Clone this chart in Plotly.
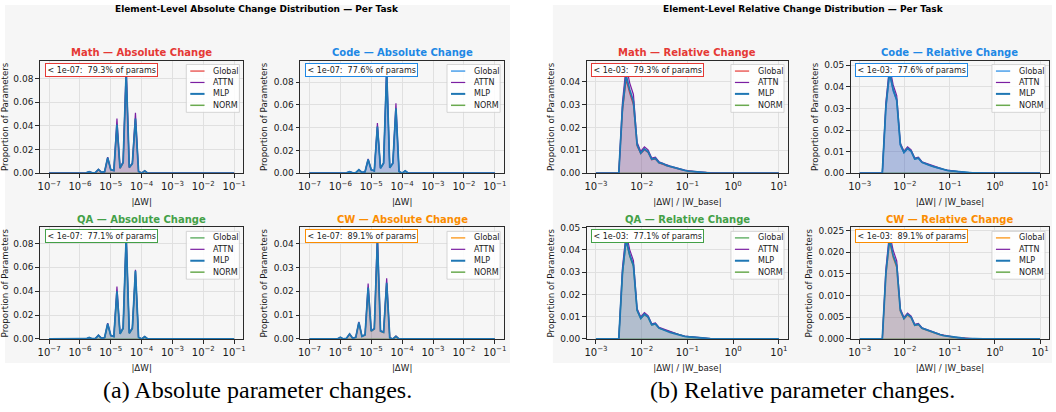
import plotly.graph_objects as go

W, H = 1056, 412

# ---------------- data ----------------
TASKS = ["Math", "Code", "QA", "CW"]
TASK_COLORS = {"Math": "#e53935", "Code": "#1e88e5", "QA": "#43a047", "CW": "#fb8c00"}
PCT_BELOW = {"Math": "79.3%", "Code": "77.6%", "QA": "77.1%", "CW": "89.1%"}
SERIES = ["Global", "ATTN", "MLP", "NORM"]
ATTN_COLOR = "#7b1fa2"
MLP_COLOR = "#1f77b4"
NORM_COLOR = "#6aaa4f"

ABS_TICK_EXP = [-7, -6, -5, -4, -3, -2, -1]
REL_TICK_EXP = [-3, -2, -1, 0, 1]

# log10 bin positions
ABS_LOGX = [-7.0, -6.2, -6.1, -6.0, -5.9, -5.8, -5.7, -5.6, -5.5, -5.4, -5.3, -5.2, -5.1, -5.0,
            -4.9, -4.8, -4.7, -4.6, -4.5, -4.4, -4.3, -4.2, -4.1, -4.0, -3.9, -3.8, -3.7, -1.0]
REL_LOGX = [-3.0, -2.5, -2.42, -2.34, -2.26, -2.18, -2.10, -2.02, -1.94, -1.86, -1.78, -1.70,
            -1.62, -1.54, -1.46, -1.38, -1.30, -1.22, -1.14, -1.06, -0.98, -0.90, -0.82, -0.74,
            -0.66, -0.58, -0.50, -0.42, -0.34, -0.26, -0.10, 1.0]
NORM_ABS_LOGX = [-7.0, -1.0]
NORM_REL_LOGX = [-3.0, 1.0]
NORM_VALUES = [0.0, 0.0]

# absolute change distributions
ABS_MATH_GLOBAL = [0, 0, 0, .0003, 0, .0002, .0011, .0002, .0004, .0030, .0006, .0011, .0125, .0028,
                   .0020, .0400, .0040, .0085, .0840, .0045, .0080, .0450, .0014, 0, .0018, 0, 0, 0]
ABS_MATH_ATTN = [0, 0, 0, .0003, 0, .0002, .0012, .0002, .0004, .0032, .0006, .0012, .0135, .0030,
                 .0022, .0460, .0045, .0095, .0905, .0050, .0085, .0510, .0015, 0, .0020, 0, 0, 0]
ABS_MATH_MLP = [0, 0, 0, .0003, 0, .0002, .0012, .0002, .0004, .0031, .0006, .0012, .0130, .0029,
                .0021, .0410, .0042, .0090, .0850, .0047, .0080, .0460, .0014, 0, .0019, 0, 0, 0]

ABS_CODE_GLOBAL = [0, 0, 0, .0002, 0, .0002, .0011, .0002, .0004, .0028, .0006, .0011, .0115, .0028,
                   .0019, .0400, .0042, .0085, .0880, .0046, .0085, .0560, .0014, 0, .0018, 0, 0, 0]
ABS_CODE_ATTN = [0, 0, 0, .0002, 0, .0002, .0012, .0002, .0004, .0030, .0006, .0012, .0125, .0030,
                 .0020, .0440, .0045, .0090, .0942, .0050, .0090, .0615, .0015, 0, .0020, 0, 0, 0]
ABS_CODE_MLP = [0, 0, 0, .0002, 0, .0002, .0012, .0002, .0004, .0029, .0006, .0012, .0120, .0029,
                .0020, .0410, .0043, .0087, .0890, .0047, .0087, .0570, .0014, 0, .0019, 0, 0, 0]

ABS_QA_GLOBAL = [0, 0, 0, .0003, 0, .0002, .0011, .0002, .0004, .0030, .0006, .0011, .0120, .0028,
                 .0020, .0390, .0042, .0085, .0840, .0046, .0085, .0560, .0014, 0, .0018, 0, 0, 0]
ABS_QA_ATTN = [0, 0, 0, .0003, 0, .0002, .0012, .0002, .0004, .0032, .0006, .0012, .0132, .0030,
               .0022, .0440, .0046, .0095, .0889, .0050, .0095, .0580, .0015, 0, .0020, 0, 0, 0]
ABS_QA_MLP = [0, 0, 0, .0003, 0, .0002, .0012, .0002, .0004, .0031, .0006, .0012, .0128, .0029,
              .0021, .0400, .0044, .0090, .0850, .0048, .0090, .0570, .0014, 0, .0019, 0, 0, 0]

ABS_CW_GLOBAL = [0, 0, 0, .0006, 0, .0003, .0020, .0003, .0007, .0066, .0011, .0016, .0210, .0032,
                 .0041, .0400, .0032, .0027, .0230, .0005, 0, .0011, 0, 0, 0, 0, 0, 0]
ABS_CW_ATTN = [0, 0, 0, .0007, 0, .0003, .0022, .0003, .0008, .0072, .0012, .0018, .0232, .0035,
               .0045, .0445, .0035, .0030, .0254, .0006, 0, .0012, 0, 0, 0, 0, 0, 0]
ABS_CW_MLP = [0, 0, 0, .0007, 0, .0003, .0021, .0003, .0007, .0069, .0011, .0017, .0215, .0033,
              .0043, .0410, .0033, .0028, .0235, .0005, 0, .0011, 0, 0, 0, 0, 0, 0]

# relative change distributions
REL_MATH_GLOBAL = [0, 0, .0270, .0410, .0350, .0300, .0120, .0085, .0102, .0090, .0058, .0062, .0044,
                   .0040, .0033, .0028, .0023, .0019, .0015, .0012, .0009, .0007, .00055, .0004,
                   .00028, .00018, .00012, .00007, .00004, .00002, 0, 0]
REL_MATH_ATTN = [0, 0, .0310, .0470, .0395, .0345, .0135, .0095, .0115, .0102, .0066, .0070, .0050,
                 .0045, .0037, .0031, .0026, .0021, .0017, .0013, .0010, .0008, .0006, .00045,
                 .0003, .0002, .00013, .00008, .00004, .00002, 0, 0]
REL_MATH_MLP = [0, 0, .0285, .0430, .0365, .0315, .0125, .0088, .0106, .0094, .0061, .0065, .0046,
                .0042, .0034, .0029, .0024, .0019, .0016, .0012, .0009, .0007, .00055, .0004,
                .00028, .00018, .00012, .00007, .00004, .00002, 0, 0]

REL_CODE_GLOBAL = [0, 0, .0305, .0460, .0380, .0335, .0130, .0094, .0113, .0100, .0065, .0069, .0049,
                   .0044, .0036, .0031, .0025, .0020, .0017, .0013, .0010, .0008, .0006, .00046,
                   .0003, .0002, .00013, .00008, .00004, .00002, 0, 0]
REL_CODE_ATTN = [0, 0, .0330, .0497, .0410, .0360, .0140, .0102, .0122, .0108, .0070, .0074, .0053,
                 .0047, .0039, .0033, .0027, .0022, .0018, .0014, .0011, .0009, .0007, .0005,
                 .00033, .00022, .00014, .00009, .00005, .00002, 0, 0]
REL_CODE_MLP = [0, 0, .0310, .0470, .0390, .0340, .0133, .0096, .0115, .0102, .0066, .0070, .0050,
                .0045, .0037, .0031, .0026, .0021, .0017, .0013, .0010, .0008, .0006, .00047,
                .0003, .0002, .00013, .00008, .00004, .00002, 0, 0]

REL_QA_GLOBAL = [0, 0, .0290, .0440, .0370, .0325, .0127, .0091, .0110, .0097, .0063, .0067, .0048,
                 .0043, .0035, .0030, .0025, .0020, .0016, .0012, .0010, .0008, .0006, .00044,
                 .0003, .0002, .00012, .00008, .00004, .00002, 0, 0]
REL_QA_ATTN = [0, 0, .0320, .0477, .0400, .0352, .0137, .0099, .0119, .0105, .0068, .0072, .0052,
               .0046, .0038, .0032, .0027, .0021, .0017, .0013, .0011, .0008, .0006, .00046,
               .0003, .0002, .00013, .00008, .00004, .00002, 0, 0]
REL_QA_MLP = [0, 0, .0297, .0450, .0378, .0332, .0130, .0093, .0112, .0099, .0064, .0068, .0049,
              .0044, .0036, .0030, .0025, .0020, .0016, .0012, .0010, .0008, .0006, .00045,
              .0003, .0002, .00012, .00008, .00004, .00002, 0, 0]

REL_CW_GLOBAL = [0, 0, .0148, .0225, .0188, .0165, .0064, .0046, .0055, .0049, .0031, .0033, .0024,
                 .0021, .0017, .0015, .0012, .0010, .0008, .00065, .0005, .0004, .0003, .00022,
                 .00015, .0001, .00006, .00004, .00002, .00001, 0, 0]
REL_CW_ATTN = [0, 0, .0162, .0245, .0205, .0180, .0070, .0050, .0060, .0053, .0034, .0036, .0026,
               .0023, .0019, .0016, .0013, .0011, .0009, .0007, .00055, .00042, .00032, .00024,
               .00016, .0001, .00007, .00004, .00002, .00001, 0, 0]
REL_CW_MLP = [0, 0, .0152, .0231, .0193, .0169, .0066, .0047, .0057, .0050, .0032, .0034, .0025,
              .0022, .0018, .0015, .0012, .0010, .0008, .00066, .0005, .0004, .0003, .00023,
              .00015, .0001, .00006, .00004, .00002, .00001, 0, 0]

ABS_DATA = {
    "Math": (ABS_MATH_GLOBAL, ABS_MATH_ATTN, ABS_MATH_MLP),
    "Code": (ABS_CODE_GLOBAL, ABS_CODE_ATTN, ABS_CODE_MLP),
    "QA": (ABS_QA_GLOBAL, ABS_QA_ATTN, ABS_QA_MLP),
    "CW": (ABS_CW_GLOBAL, ABS_CW_ATTN, ABS_CW_MLP),
}
REL_DATA = {
    "Math": (REL_MATH_GLOBAL, REL_MATH_ATTN, REL_MATH_MLP),
    "Code": (REL_CODE_GLOBAL, REL_CODE_ATTN, REL_CODE_MLP),
    "QA": (REL_QA_GLOBAL, REL_QA_ATTN, REL_QA_MLP),
    "CW": (REL_CW_GLOBAL, REL_CW_ATTN, REL_CW_MLP),
}
Y_TICKS = {  # (dtick, format)
    ("abs", "Math"): (0.02, ".2f"), ("abs", "Code"): (0.02, ".2f"),
    ("abs", "QA"): (0.02, ".2f"), ("abs", "CW"): (0.01, ".2f"),
    ("rel", "Math"): (0.01, ".2f"), ("rel", "Code"): (0.01, ".2f"),
    ("rel", "QA"): (0.01, ".2f"), ("rel", "CW"): (0.005, ".3f"),
}

# ---------------- layout geometry (pixels) ----------------
COLS = [(38, 242.3), (299.3, 504), (587, 789), (852, 1051)]
ROWS = [(57, 172.3), (228, 342.3)]
POS = {("abs", "Math"): (0, 0), ("abs", "Code"): (0, 1), ("abs", "QA"): (1, 0), ("abs", "CW"): (1, 1),
       ("rel", "Math"): (0, 2), ("rel", "Code"): (0, 3), ("rel", "QA"): (1, 2), ("rel", "CW"): (1, 3)}

FONT = "DejaVu Sans"


def px_x(x):
    return x / W


def px_y(y):
    return 1 - y / H


def rgba(hexc, a):
    hexc = hexc.lstrip("#")
    r, g, b = int(hexc[0:2], 16), int(hexc[2:4], 16), int(hexc[4:6], 16)
    return f"rgba({r},{g},{b},{a})"


def pow_label(e):
    return "10<sup>" + (str(e) if e >= 0 else "\u2212" + str(-e)) + "</sup>"


fig = go.Figure()
shapes = []
annotations = []

# panel backgrounds
shapes.append(dict(type="rect", xref="paper", yref="paper", x0=px_x(3), x1=px_x(510),
                   y0=px_y(367), y1=px_y(0), fillcolor="#f6f6f6", line=dict(width=0), layer="below"))
shapes.append(dict(type="rect", xref="paper", yref="paper", x0=px_x(553), x1=px_x(1054),
                   y0=px_y(367), y1=px_y(0), fillcolor="#f6f6f6", line=dict(width=0), layer="below"))

idx = 0
for kind in ["abs", "rel"]:
    for task in TASKS:
        idx += 1
        sfx = "" if idx == 1 else str(idx)
        r, c = POS[(kind, task)]
        (L, R), (T, B) = COLS[c], ROWS[r]
        tc = TASK_COLORS[task]
        logx = ABS_LOGX if kind == "abs" else REL_LOGX
        xs = [10 ** v for v in logx]
        nlogx = NORM_ABS_LOGX if kind == "abs" else NORM_REL_LOGX
        g, a, m = (ABS_DATA if kind == "abs" else REL_DATA)[task]

        fig.add_trace(go.Scatter(x=[10 ** v for v in nlogx], y=NORM_VALUES, mode="lines",
                                 line=dict(color=NORM_COLOR, width=1.2), name="NORM",
                                 showlegend=False, xaxis="x" + sfx, yaxis="y" + sfx))
        for vals, col, lw, nm in [(g, tc, 1.2, "Global"), (a, ATTN_COLOR, 1.2, "ATTN"),
                                  (m, MLP_COLOR, 1.8, "MLP")]:
            fig.add_trace(go.Scatter(x=xs, y=vals, mode="lines", fill="tozeroy",
                                     fillcolor=rgba(col, 0.15), line=dict(color=col, width=lw),
                                     name=nm, showlegend=False,
                                     xaxis="x" + sfx, yaxis="y" + sfx))

        ymax = 1.05 * max(max(g), max(a), max(m))
        dt, fmt = Y_TICKS[(kind, task)]
        xr = [-7.3, -0.7] if kind == "abs" else [-3.2, 1.2]
        texp = ABS_TICK_EXP if kind == "abs" else REL_TICK_EXP
        xtitle = "|ΔW|" if kind == "abs" else "|ΔW| / |W_base|"
        common = dict(showline=True, mirror=True, linecolor="#2a2a2a", linewidth=1.3,
                      ticks="outside", ticklen=3.5, tickcolor="#2a2a2a", tickwidth=1,
                      showgrid=True, gridcolor="#e0e0e0", gridwidth=0.8, zeroline=False)
        fig.update_layout(**{
            "xaxis" + sfx: dict(domain=[px_x(L), px_x(R)], anchor="y" + sfx, type="log",
                                range=xr, tickmode="array",
                                tickvals=[10.0 ** e for e in texp],
                                ticktext=[pow_label(e) for e in texp],
                                tickfont=dict(family=FONT, size=10, color="#1a1a1a"),
                                title=dict(text=xtitle, font=dict(family=FONT, size=8.7, color="#1a1a1a"),
                                           standoff=8), **common),
            "yaxis" + sfx: dict(domain=[px_y(B), px_y(T)], anchor="x" + sfx,
                                range=[0, ymax], dtick=dt, tickformat=fmt,
                                tickfont=dict(family=FONT, size=9, color="#1a1a1a"),
                                title=dict(text="Proportion of Parameters",
                                           font=dict(family=FONT, size=8.7, color="#1a1a1a"),
                                           standoff=4), **common),
        })

        # subplot title
        kname = "Absolute Change" if kind == "abs" else "Relative Change"
        annotations.append(dict(xref="paper", yref="paper", x=px_x((L + R) / 2), y=px_y(T - 0.5),
                                xanchor="center", yanchor="bottom", showarrow=False,
                                text=f"<b>{task} — {kname}</b>",
                                font=dict(family=FONT, size=10, color=tc)))
        # threshold text box
        thr = "1e-07" if kind == "abs" else "1e-03"
        annotations.append(dict(xref="paper", yref="paper", x=px_x(L + 4.7), y=px_y(T + 2),
                                xanchor="left", yanchor="top", showarrow=False,
                                text=f"&lt; {thr}:\u00a0 {PCT_BELOW[task]} of params",
                                font=dict(family=FONT, size=8, color="#1a1a1a"),
                                bgcolor="white", bordercolor=tc, borderwidth=1, borderpad=1.5))
        # manual legend
        bx0, bx1 = R - 57.3, R - 4
        by0, by1 = T + 4, T + 53
        shapes.append(dict(type="rect", xref="paper", yref="paper", x0=px_x(bx0), x1=px_x(bx1),
                           y0=px_y(by1), y1=px_y(by0), fillcolor="rgba(255,255,255,0.85)",
                           line=dict(color="#cccccc", width=0.8)))
        for k, (nm, col, lw) in enumerate([("Global", tc, 1.2), ("ATTN", ATTN_COLOR, 1.2),
                                           ("MLP", MLP_COLOR, 2.0), ("NORM", NORM_COLOR, 1.5)]):
            yy = T + 10.7 + 11.7 * k
            shapes.append(dict(type="line", xref="paper", yref="paper",
                               x0=px_x(bx0 + 4), x1=px_x(bx0 + 18.3), y0=px_y(yy), y1=px_y(yy),
                               line=dict(color=col, width=lw)))
            annotations.append(dict(xref="paper", yref="paper", x=px_x(bx0 + 25), y=px_y(yy),
                                    xanchor="left", yanchor="middle", showarrow=False, text=nm,
                                    font=dict(family=FONT, size=8, color="#1a1a1a")))

# super titles
annotations.append(dict(xref="paper", yref="paper", x=px_x(256), y=px_y(4), xanchor="center",
                        yanchor="middle", showarrow=False,
                        text="<b>Element-Level Absolute Change Distribution — Per Task</b>",
                        font=dict(family=FONT, size=9, color="black")))
annotations.append(dict(xref="paper", yref="paper", x=px_x(805), y=px_y(4), xanchor="center",
                        yanchor="middle", showarrow=False,
                        text="<b>Element-Level Relative Change Distribution — Per Task</b>",
                        font=dict(family=FONT, size=9, color="black")))
# captions
annotations.append(dict(xref="paper", yref="paper", x=px_x(256), y=px_y(395), xanchor="center",
                        yanchor="middle", showarrow=False, text="(a) Absolute parameter changes.",
                        font=dict(family="Liberation Serif", size=24, color="black")))
annotations.append(dict(xref="paper", yref="paper", x=px_x(803.5), y=px_y(395), xanchor="center",
                        yanchor="middle", showarrow=False, text="(b) Relative parameter changes.",
                        font=dict(family="Liberation Serif", size=24, color="black")))

fig.update_layout(width=W, height=H, margin=dict(l=0, r=0, t=0, b=0), autosize=False,
                  paper_bgcolor="white", plot_bgcolor="#fbfbfb", showlegend=False,
                  shapes=shapes, annotations=annotations, font=dict(family=FONT))

fig.write_html("out.html", config={"displayModeBar": False},
               post_script="document.body.style.margin='0';document.body.style.overflow='hidden';")
